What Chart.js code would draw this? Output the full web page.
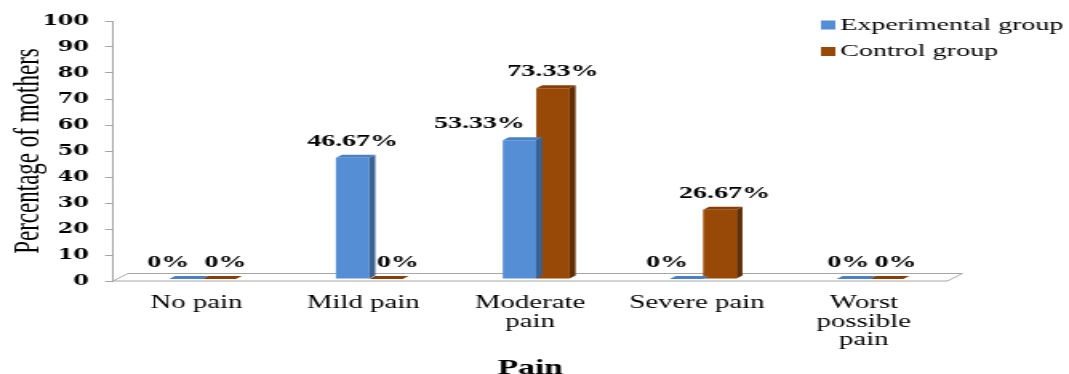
<!DOCTYPE html>
<html>
<head>
<meta charset="utf-8">
<script src="https://cdn.jsdelivr.net/npm/chart.js@4.4.1/dist/chart.umd.min.js"></script>
<style>
  html, body { margin: 0; padding: 0; background: #fff; }
  #wrap { width: 1069px; height: 374px; overflow: hidden; }
</style>
</head>
<body>
<div id="wrap">
  <!-- drawn at 668px wide, then stretched to 1069px like the reference picture -->
  <canvas id="painChart" width="668" height="374" style="width:1069px;height:374px"></canvas>
</div>
<script>
const categories = [['No pain'], ['Mild pain'], ['Moderate', 'pain'], ['Severe pain'], ['Worst', 'possible', 'pain']];
const seriesNames = ['Experimental group', 'Control group'];
const experimentalValues = [0, 46.67, 53.33, 0, 0];
const controlValues = [0, 0, 73.33, 26.67, 0];
const yTicks = [0, 10, 20, 30, 40, 50, 60, 70, 80, 90, 100];

// 3d look: floor, side and top faces, value labels
const bar3d = {
    id: 'bar3d',
    beforeDatasetsDraw(chart, args, opts) {
        const { ctx, chartArea: a } = chart;
        ctx.save();
        ctx.beginPath();
        ctx.moveTo(a.left, a.bottom);
        ctx.lineTo(a.right, a.bottom);
        ctx.lineTo(a.right + opts.floorX, a.bottom - opts.floorY);
        ctx.lineTo(a.left + opts.floorX, a.bottom - opts.floorY);
        ctx.closePath();
        ctx.fillStyle = '#ffffff';
        ctx.fill();
        ctx.strokeStyle = '#a6a6a6';
        ctx.lineWidth = 1;
        ctx.stroke();
        ctx.restore();
        // bars stand in the middle of the floor depth
        ctx.save();
        ctx.translate(opts.shiftX, -opts.shiftY);
    },
    afterDatasetsDraw(chart, args, opts) {
        const ctx = chart.ctx;
        const dx = opts.depthX, dy = opts.depthY;
        chart.data.datasets.forEach((ds, di) => {
            const meta = chart.getDatasetMeta(di);
            meta.data.forEach((bar, i) => {
                const { x, y, base, width } = bar.getProps(['x', 'y', 'base', 'width'], true);
                const l = x - width / 2, r = x + width / 2;
                // side
                ctx.fillStyle = ds.sideColor;
                ctx.beginPath();
                ctx.moveTo(r, y);
                ctx.lineTo(r + dx, y - dy);
                ctx.lineTo(r + dx, base - dy);
                ctx.lineTo(r, base);
                ctx.closePath();
                ctx.fill();
                // top
                ctx.fillStyle = ds.topColor;
                ctx.beginPath();
                ctx.moveTo(l, y);
                ctx.lineTo(r, y);
                ctx.lineTo(r + dx, y - dy);
                ctx.lineTo(l + dx, y - dy);
                ctx.closePath();
                ctx.fill();
            });
        });
        // value labels
        ctx.font = 'bold 17.5px "Liberation Serif"';
        ctx.fillStyle = '#000';
        ctx.textAlign = 'center';
        ctx.textBaseline = 'middle';
        chart.data.datasets.forEach((ds, di) => {
            const meta = chart.getDatasetMeta(di);
            meta.data.forEach((bar, i) => {
                const nudge = opts.labelNudge[di][i];
                ctx.fillText(ds.data[i] + '%', bar.x + nudge, bar.y - opts.labelGap);
            });
        });
        ctx.restore();
    }
};

const legendBox = {
    id: 'legendBox',
    afterDraw(chart, args, opts) {
        const ctx = chart.ctx;
        ctx.save();
        ctx.font = '17.5px "Liberation Serif"';
        ctx.textAlign = 'left';
        ctx.textBaseline = 'middle';
        chart.data.datasets.forEach((ds, di) => {
            const cy = opts.y + di * opts.rowGap;
            ctx.fillStyle = ds.backgroundColor;
            ctx.fillRect(opts.x, cy - 4.5, 9, 9);
            ctx.fillStyle = '#000';
            ctx.fillText(ds.label, opts.x + 12, cy);
        });
        ctx.restore();
    }
};

const chart = new Chart(document.getElementById('painChart'), {
    type: 'bar',
    data: {
        labels: categories,
        datasets: [{
            label: seriesNames[0],
            data: experimentalValues,
            backgroundColor: '#558ed5',
            sideColor: '#3a6294',
            topColor: '#4a80c4',
            clip: false
        }, {
            label: seriesNames[1],
            data: controlValues,
            backgroundColor: '#984807',
            sideColor: '#622d03',
            topColor: '#863f06',
            clip: false
        }]
    },
    plugins: [bar3d, legendBox],
    options: {
        responsive: false,
        devicePixelRatio: 1,
        animation: false,
        layout: { padding: { top: 21, right: 76, left: 0, bottom: 0 } },
        datasets: { bar: { categoryPercentage: 0.4, barPercentage: 1.0 } },
        plugins: {
            legend: { display: false },
            tooltip: { enabled: false },
            bar3d: {
                floorX: 9.4, floorY: 7.5,
                shiftX: 3.75, shiftY: 2,
                depthX: 3.75, depthY: 3,
                labelGap: 16.5,
                labelNudge: [[-11, 0, -25, -12, -3], [4, 7.5, 0, 3, 5.5]]
            },
            legendBox: { x: 513, y: 25, rowGap: 26.5 }
        },
        scales: {
            x: {
                grid: { display: false, drawTicks: false },
                border: { display: false },
                ticks: {
                    color: '#000',
                    padding: 13,
                    autoSkip: false,
                    maxRotation: 0,
                    font: { family: 'Liberation Serif', size: 18, lineHeight: 1.03 }
                },
                title: {
                    display: true,
                    text: 'Pain',
                    color: '#000',
                    padding: { top: 0, bottom: -5 },
                    font: { family: 'Liberation Serif', size: 21, weight: 'bold', lineHeight: 1 }
                },
                afterFit: s => { s.height = 93; }
            },
            y: {
                min: 0,
                max: 100,
                afterBuildTicks: s => { s.ticks = yTicks.map(v => ({ value: v })); },
                grid: { drawOnChartArea: false, drawTicks: true, tickLength: 5, color: '#a6a6a6' },
                border: { display: true, color: '#a6a6a6', width: 1 },
                ticks: {
                    color: '#000',
                    padding: 10,
                    font: { family: 'DejaVu Serif', size: 14, weight: 'bold' }
                },
                title: {
                    display: true,
                    text: 'Percentage of mothers',
                    color: '#000',
                    padding: { top: 6, bottom: 0 },
                    font: { family: 'Liberation Serif', size: 23, lineHeight: 1 }
                },
                afterFit: s => { s.width = 70.6; }
            }
        }
    }
});
</script>
</body>
</html>
